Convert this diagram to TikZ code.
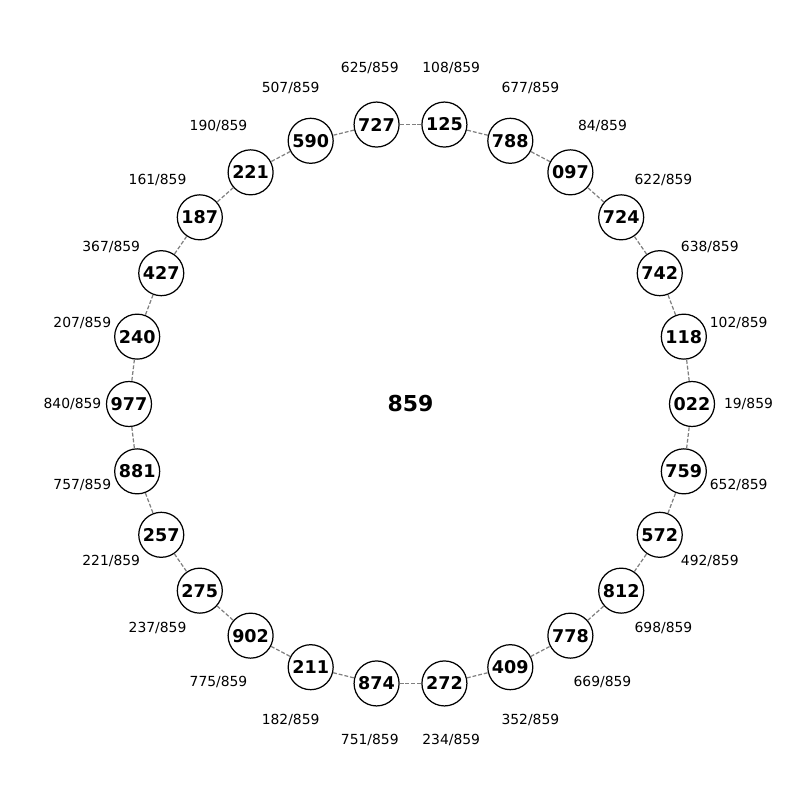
\documentclass[tikz,border=0pt]{standalone}
\usepackage{fontspec}
\setmainfont{DejaVu Sans}
\definecolor{linkgray}{HTML}{808080}
\tikzset{ring node/.style={
    circle,draw,fill=white,minimum size=.9cm,inner sep=0pt,line width=.7pt,
    font=\fontsize{10}{12}\selectfont\bfseries}}
\tikzset{ring label/.style={font=\fontsize{7.9}{10}\selectfont}}
\tikzset{ring link/.style={draw=linkgray,dash pattern=on 2.2pt off 1.1pt,line width=.7pt}}

\begin{document}
\begin{tikzpicture}
  \path[use as bounding box]
    (-8.21cm,-7.92cm) rectangle (7.79cm,8.08cm);
  \node[font=\fontsize{12.5}{14}\selectfont\bfseries] (total) at (0,0) {859};
  \foreach \val/\lbl [count=\k from 0] in {022/19,118/102,742/638,724/622,
      097/84,788/677,125/108,727/625,590/507,221/190,187/161,427/367,240/207,
      977/840,881/757,257/221,275/237,902/775,211/182,874/751,272/234,
      409/352,778/669,812/698,572/492,759/652} {
    \node[ring node] (n\k) at (\k*360/26:5.63cm) {\val};
    \node[ring label] (l\k) at (\k*360/26:6.76cm) {\lbl/859};
  }
  \foreach \k [evaluate=\k as \j using {int(mod(\k+1,26))}] in {0,...,25}
    \draw[ring link] (n\k) -- (n\j);
\end{tikzpicture}
\end{document}
